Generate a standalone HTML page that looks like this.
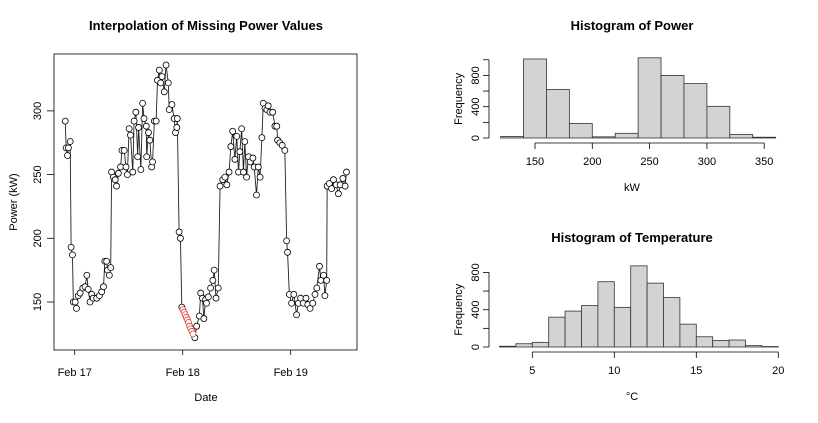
<!DOCTYPE html>
<html><head><meta charset="utf-8"><style>
body{margin:0;background:#fff;width:818px;height:418px;overflow:hidden}
svg{font-family:"Liberation Sans",sans-serif}
</style></head><body>
<svg id="c" width="818" height="418">
<g id="main"></g>
<g id="hp"></g>
<g id="ht"></g>
</svg>
<script>
const hours=[
-2.1,-1.9,-1.4,-1.6,-1.0,-0.8,-0.5,-0.3,0.1,0.4,
0.8,1.2,1.8,2.3,2.7,3.0,3.4,3.8,4.1,4.9,
5.5,6.0,6.4,6.7,7.1,7.3,7.7,8.0,8.2,8.6,
9.0,9.3,9.7,10.2,10.5,11.0,11.4,11.7,12.1,12.4,
12.9,13.2,13.6,14.0,14.2,14.7,15.1,15.4,15.9,16.0,
16.4,16.7,17.1,17.3,17.7,18.1,18.4,18.8,19.1,19.4,
19.9,20.3,20.8,21.0,21.6,22.1,22.4,22.7,22.8,23.2,
23.5,23.8,26.7,27.1,27.7,28.0,28.4,28.7,29.1,29.3,
29.7,30.2,30.7,31.0,31.4,31.9,32.3,32.9,33.4,33.8,
34.3,34.7,35.1,35.6,36.0,36.4,36.7,37.1,37.5,37.8,
38.2,38.6,39.0,39.6,39.9,40.4,40.8,41.2,41.6,41.9,
42.3,42.7,43.0,43.4,44.0,44.5,44.9,45.1,45.6,46.1,
46.7,47.1,47.3,47.7,48.2,48.7,49.3,49.7,50.2,50.8,
51.4,51.8,52.3,52.9,53.4,53.8,54.4,54.7,55.3,55.6,
56.0,56.1,56.6,57.1,57.5,58.1,58.6,59.0,59.6,60.1,
60.4];
const power=[
292,271,271,265,276,193,187,150,150,145,
155,157,161,162,171,160,150,156,153,153,
155,158,162,182,182,175,171,177,252,248,
246,241,251,256,269,269,256,250,286,281,
252,292,299,264,287,254,306,294,288,264,
283,277,256,260,292,292,324,332,322,327,
315,336,322,301,305,294,283,287,294,205,
200,146,122,131,139,157,153,137,152,149,
154,161,167,175,153,161,241,246,248,242,
252,272,284,262,280,252,268,286,252,276,
248,264,260,263,256,234,256,248,279,306,
302,301,304,299,299,288,288,277,275,273,
269,198,189,156,149,156,140,149,153,149,
153,148,145,149,156,161,178,167,171,155,
167,241,243,239,246,242,235,242,247,241,
252];
const impHours=[24.05,24.3,24.55,24.8,25.05,25.3,25.55,25.8,26.05,26.3];
const impPower=[144,142,140,138,136,134,131,129,127,125];
const mainTicks=["Feb 17","Feb 18","Feb 19"];
const mainYTicks=[150,200,250,300];

const pBinStart=[120,140,160,180,200,220,240,260,280,300,320,340];
const pCounts=[20,1010,620,185,15,60,1025,800,695,405,45,10];
const pXTicks=[150,200,250,300,350];
const tBinStart=[3,4,5,6,7,8,9,10,11,12,13,14,15,16,17,18,19];
const tCounts=[8,35,50,320,385,445,700,425,870,685,530,245,110,70,75,15,5];
const tXTicks=[5,10,15,20];

const NS="http://www.w3.org/2000/svg";
function mk(p,tag,attrs,txt){const e=document.createElementNS(NS,tag);for(const k in attrs)e.setAttribute(k,attrs[k]);if(txt!==undefined)e.textContent=txt;p.appendChild(e);return e;}

// ---- main panel
const M=document.getElementById('main');
const mx=h=>74.7+h*4.5, my=v=>302-(v-150)*1.274;
let t=mk(M,'text',{x:206,y:30,'text-anchor':'middle','font-size':13,'font-weight':'bold'},'Interpolation of Missing Power Values');

let r=mk(M,'rect',{x:54,y:54,width:303,height:296,fill:'none',stroke:'#000','stroke-width':0.8});

mainYTicks.forEach(v=>{const y=my(v);const l=mk(M,'line',{x1:47,x2:54,y1:y,y2:y,stroke:'#000','stroke-width':0.8});

const tx=mk(M,'text',{x:0,y:0,transform:`translate(41,${y}) rotate(-90)`,'text-anchor':'middle','font-size':11},v);
});
mainTicks.forEach((s,i)=>{const x=mx(i*24);const l=mk(M,'line',{x1:x,x2:x,y1:350,y2:355,stroke:'#000','stroke-width':0.8});

const tx=mk(M,'text',{x:x,y:376,'text-anchor':'middle','font-size':11},s);
});
t=mk(M,'text',{x:206,y:401,'text-anchor':'middle','font-size':11},'Date');

t=mk(M,'text',{x:0,y:0,transform:'translate(17,202) rotate(-90)','text-anchor':'middle','font-size':11},'Power (kW)');

const all=hours.map((h,i)=>[h,power[i]]).concat(impHours.map((h,i)=>[h,impPower[i]])).sort((a,b)=>a[0]-b[0]);
let pl=mk(M,'polyline',{points:all.map(p=>mx(p[0])+','+my(p[1])).join(' '),fill:'none',stroke:'#222','stroke-width':0.9});

hours.forEach((h,i)=>{const c=mk(M,'circle',{cx:mx(h),cy:my(power[i]),r:3,fill:'#fff',stroke:'#000','stroke-width':0.8});
});
impHours.forEach((h,i)=>{const c=mk(M,'circle',{cx:mx(h),cy:my(impPower[i]),r:3,fill:'#fff',stroke:'#e0453a','stroke-width':0.8});
});

// ---- histograms
function hist(G,o){
  const xs=v=>o.x0+(v-o.v0)*o.kx, ys=c=>o.yb-c*o.ky;
  let t=mk(G,'text',{x:o.tx,y:o.ty,'text-anchor':'middle','font-size':13,'font-weight':'bold'},o.title);
  
  o.bins.forEach((b,i)=>{const r=mk(G,'rect',{x:xs(b),y:ys(o.counts[i]),width:o.w*o.kx,height:o.counts[i]*o.ky,fill:'#d3d3d3',stroke:'#333','stroke-width':0.8});
  });
  let a=mk(G,'line',{x1:xs(o.xt[0]),x2:xs(o.xt[o.xt.length-1]),y1:o.yb+5,y2:o.yb+5,stroke:'#000','stroke-width':0.8});
  
  o.xt.forEach(v=>{const l=mk(G,'line',{x1:xs(v),x2:xs(v),y1:o.yb+5,y2:o.yb+11,stroke:'#000','stroke-width':0.8});
  
  const tx=mk(G,'text',{x:xs(v),y:o.yb+27,'text-anchor':'middle','font-size':11},v);
  });
  a=mk(G,'line',{x1:o.ax,x2:o.ax,y1:ys(0),y2:ys(o.ymax),stroke:'#000','stroke-width':0.8});
  
  for(let v=0;v<=o.ymax;v+=200){const y=ys(v);const l=mk(G,'line',{x1:o.ax-6,x2:o.ax,y1:y,y2:y,stroke:'#000','stroke-width':0.8});
  
  if(v%400===0){const tx=mk(G,'text',{x:0,y:0,transform:`translate(${o.ax-10},${y}) rotate(-90)`,'text-anchor':'middle','font-size':11},v);
  }}
  t=mk(G,'text',{x:o.tx,y:o.yb+53,'text-anchor':'middle','font-size':11},o.xl);
  
  t=mk(G,'text',{x:0,y:0,transform:`translate(${o.ax-27},${ys(o.ymax/2)}) rotate(-90)`,'text-anchor':'middle','font-size':11},'Frequency');
  
}
hist(document.getElementById('hp'),{title:'Histogram of Power',tx:632,ty:30,x0:535,v0:150,kx:57.3/50,yb:138,ky:31.3/400,w:20,bins:pBinStart,counts:pCounts,xt:pXTicks,ax:489,ymax:1000,xl:'kW'});
hist(document.getElementById('ht'),{title:'Histogram of Temperature',tx:632,ty:242,x0:532.3,v0:5,kx:82/5,yb:347,ky:37.3/400,w:1,bins:tBinStart,counts:tCounts,xt:tXTicks,ax:489,ymax:800,xl:'°C'});
</script>
</body></html>
